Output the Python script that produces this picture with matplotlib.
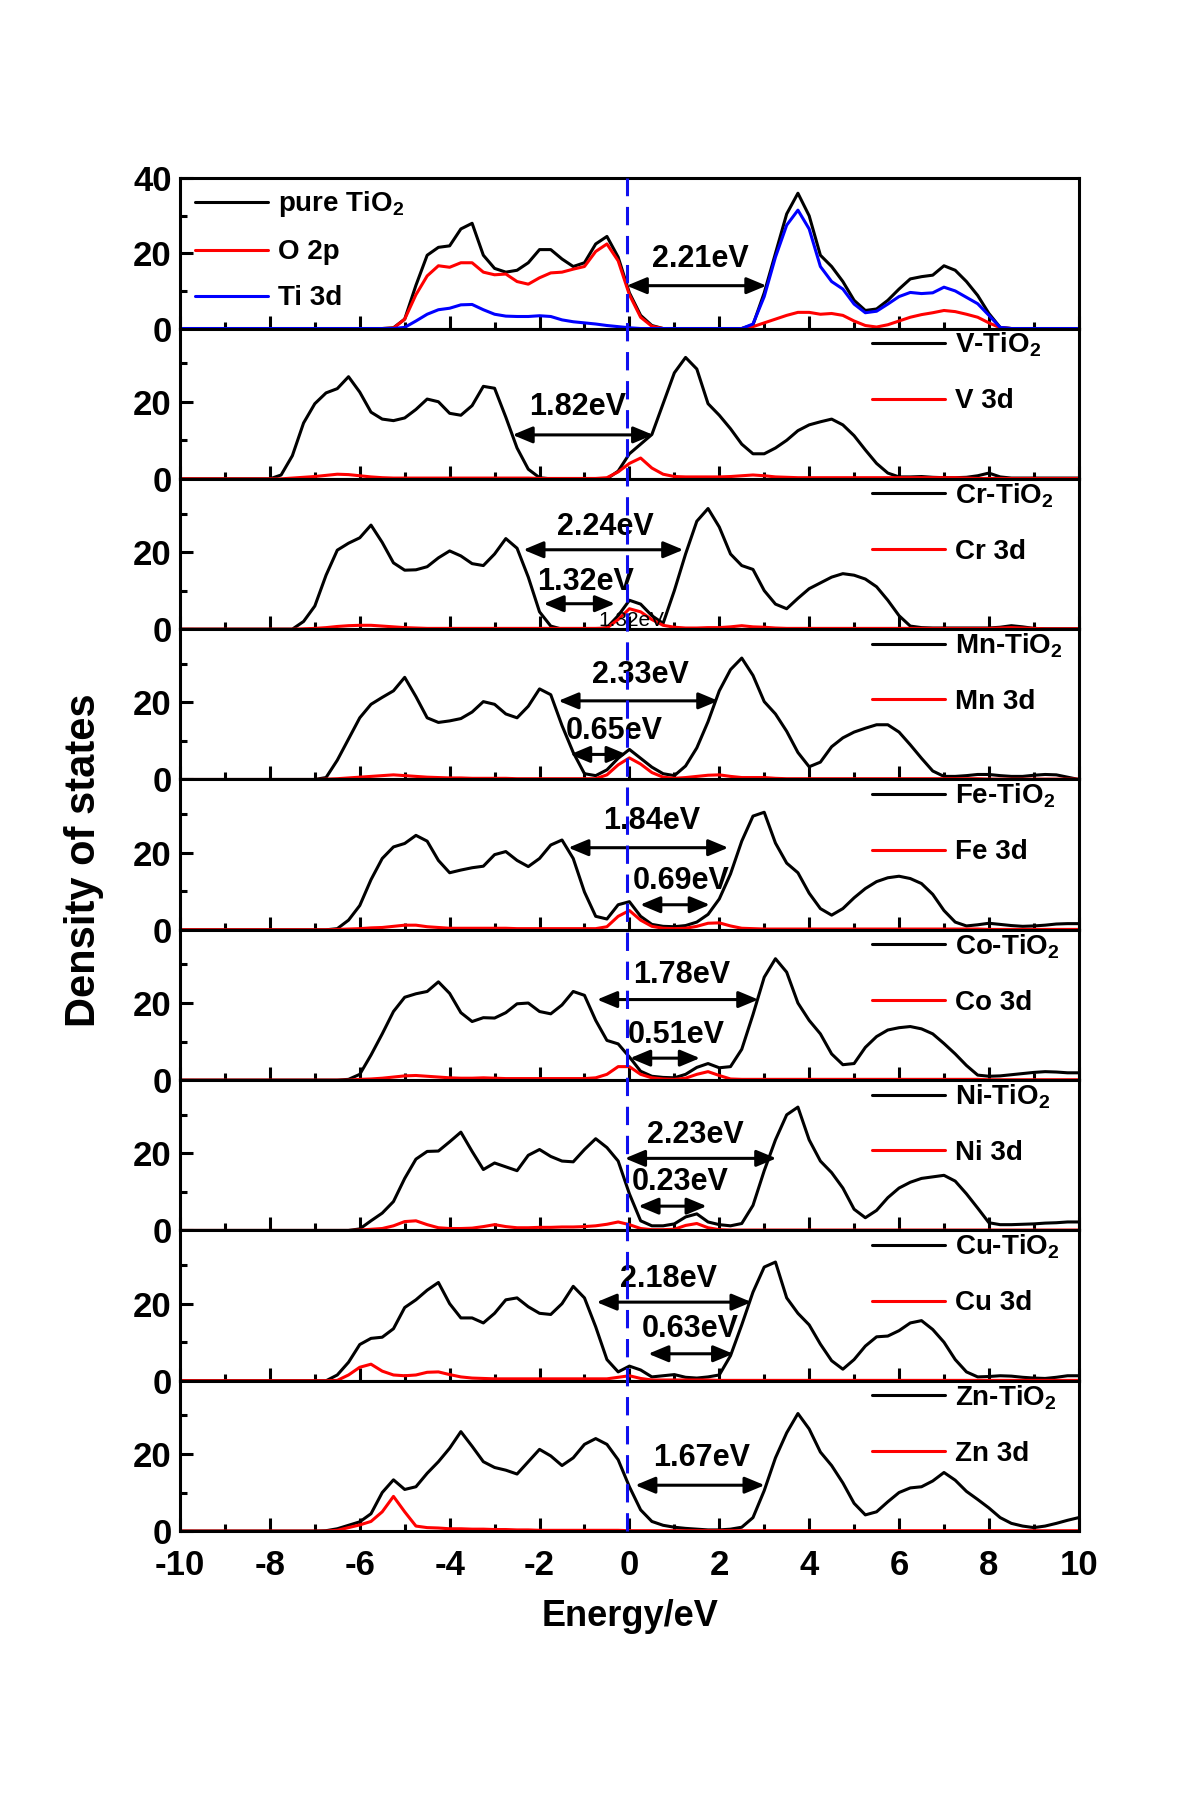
import numpy as np
import matplotlib
matplotlib.use("Agg")
import matplotlib.pyplot as plt
from matplotlib.lines import Line2D
from matplotlib.transforms import blended_transform_factory

plt.rcParams['font.family'] = ['Liberation Sans', 'DejaVu Sans']
plt.rcParams['font.weight'] = 'bold'
plt.rcParams['mathtext.fontset'] = 'custom'
plt.rcParams['mathtext.rm'] = 'Liberation Sans:bold'
plt.rcParams['mathtext.bf'] = 'Liberation Sans:bold'
plt.rcParams['mathtext.default'] = 'rm'
plt.rcParams['axes.unicode_minus'] = False

# ---------------- data (0.25 eV grid) ----------------
energy = np.arange(-10, 10.001, 0.25)   # -10 ... 10 eV, 81 points

tio2_total = [0, 0, 0, 0, 0, 0, 0, 0,
              0, 0, 0, 0, 0, 0, 0, 0,
              0, 0, 0, 0.2, 2.5, 11.5, 19.5, 21.6,
              22, 26.5, 28, 19.5, 16, 15, 15.5, 17.5,
              21, 21, 18.5, 16.5, 17.5, 22.5, 24.5, 19,
              9.5, 3.5, 0.8, 0, 0, 0, 0, 0,
              0, 0, 0, 1, 9.5, 20, 30.5, 36,
              30, 19.5, 16.5, 12.5, 7.5, 4.8, 5.2, 7.5,
              10.5, 13.2, 13.8, 14.2, 16.7, 15.5, 12.5, 8.8,
              4, 0.3, 0, 0, 0, 0, 0, 0,
              0]
o2p = [0, 0, 0, 0, 0, 0, 0, 0,
       0, 0, 0, 0, 0, 0, 0, 0,
       0, 0, 0, 0.1, 2.5, 9, 14, 16.7,
       16.3, 17.5, 17.5, 15, 14.3, 14.5, 12.5, 11.8,
       13.5, 14.8, 15, 15.8, 16.5, 20.5, 22.5, 18,
       9, 3, 0.6, 0, 0, 0, 0, 0,
       0, 0, 0, 0.5, 1.5, 2.5, 3.5, 4.3,
       4.3, 3.8, 4, 3.5, 2, 0.8, 0.4, 1,
       2, 3, 3.7, 4.2, 4.8, 4.5, 3.8, 3,
       1.5, 0.2, 0, 0, 0, 0, 0, 0,
       0]
ti3d = [0, 0, 0, 0, 0, 0, 0, 0,
        0, 0, 0, 0, 0, 0, 0, 0,
        0, 0, 0, 0, 0.3, 2, 3.8, 5,
        5.4, 6.3, 6.4, 5, 3.8, 3.3, 3.2, 3.2,
        3.4, 3.2, 2.3, 1.8, 1.5, 1.2, 0.8, 0.5,
        0.2, 0, 0, 0, 0, 0, 0, 0,
        0, 0, 0, 1.2, 8.5, 19, 27.5, 31.5,
        26.5, 16.5, 12.5, 10.5, 6.5, 4.2, 4.6, 6.5,
        8.5, 9.6, 9.3, 9.5, 11, 10, 8.3, 6.6,
        3.5, 0.3, 0, 0, 0, 0, 0, 0,
        0]

v_total = [0, 0, 0, 0, 0, 0, 0, 0,
           0, 1, 6, 14.5, 19.5, 22.3, 23.4, 26.5,
           22.5, 17.3, 15.5, 15.1, 15.8, 18, 20.7, 20,
           17, 16.5, 19, 24, 23.5, 16, 8, 2.5,
           0.3, 0, 0, 0, 0, 0, 0, 2,
           6.5, 9, 11.5, 19.5, 27.5, 31.5, 28.5, 19.5,
           16.5, 13, 9, 6.5, 6.5, 8, 10, 12.5,
           14, 14.8, 15.5, 14, 11.2, 7.5, 4, 1.5,
           0.5, 0.5, 0.6, 0.4, 0.3, 0.3, 0.4, 0.8,
           1.5, 0.5, 0.2, 0.2, 0.2, 0.2, 0.2, 0.2,
           0.2]
v_3d = [0, 0, 0, 0, 0, 0, 0, 0,
        0, 0, 0.2, 0.4, 0.6, 0.9, 1.2, 1.1,
        0.8, 0.5, 0.3, 0.2, 0.2, 0.2, 0.2, 0.2,
        0.2, 0.2, 0.2, 0.2, 0.2, 0.2, 0.2, 0.2,
        0.1, 0.1, 0.1, 0.1, 0.1, 0.1, 0.3, 1.8,
        4, 5.4, 2.8, 1.2, 0.6, 0.5, 0.5, 0.5,
        0.5, 0.6, 0.8, 1, 0.8, 0.5, 0.4, 0.3,
        0.3, 0.3, 0.3, 0.3, 0.3, 0.3, 0.3, 0.3,
        0.3, 0.3, 0.3, 0.3, 0.3, 0.3, 0.2, 0.1,
        0.1, 0.1, 0.1, 0.1, 0.1, 0.1, 0.1, 0.1,
        0.1]

cr_total = [0, 0, 0, 0, 0, 0, 0, 0,
            0, 0, 0, 2, 6, 14, 20.5, 22.3,
            23.7, 27, 22.5, 17.2, 15.3, 15.4, 16.2, 18.5,
            20.3, 19, 17, 16.5, 19.5, 23.5, 21, 13.5,
            4.5, 0.8, 0, 0, 0, 0, 0.4, 3.5,
            7.5, 6.5, 3.5, 1.5, 10, 19.5, 28, 31.3,
            26.5, 19.5, 16.5, 15.5, 10, 6.5, 5.3, 8,
            10.5, 12, 13.5, 14.4, 14, 13, 11, 7.5,
            3.5, 0.8, 0.4, 0.3, 0.3, 0.3, 0.3, 0.3,
            0.3, 0.5, 0.9, 0.6, 0.2, 0.1, 0.1, 0.1,
            0.1]
cr_3d = [0, 0, 0, 0, 0, 0, 0, 0,
         0, 0, 0, 0.1, 0.2, 0.4, 0.7, 0.9,
         1.0, 1.0, 0.8, 0.6, 0.4, 0.3, 0.2, 0.2,
         0.2, 0.2, 0.2, 0.2, 0.2, 0.2, 0.2, 0.2,
         0.2, 0.2, 0.2, 0.2, 0.2, 0.2, 0.3, 2.5,
         5.3, 4.5, 2.5, 1.0, 0.5, 0.3, 0.3, 0.4,
         0.4, 0.6, 0.9, 0.6, 0.5, 0.3, 0.2, 0.2,
         0.2, 0.2, 0.2, 0.2, 0.2, 0.2, 0.2, 0.2,
         0.2, 0.2, 0.2, 0.2, 0.2, 0.2, 0.2, 0.2,
         0.2, 0.3, 0.4, 0.3, 0.2, 0.1, 0.1, 0.1,
         0.1]

mn_total = [0, 0, 0, 0, 0, 0, 0, 0,
            0, 0, 0, 0, 0, 0.5, 5, 10.5,
            16, 19.5, 21.3, 23, 26.5, 21.5, 16, 14.8,
            15.2, 15.8, 17.5, 20.2, 19.5, 17, 16, 19,
            23.5, 22, 14, 7, 1.5, 1.0, 2.5, 5.5,
            7.8, 5.5, 3.2, 1.5, 1, 3.5, 8.2, 15,
            23, 28.5, 31.5, 27, 20.2, 17, 12.5, 7,
            3.3, 4.5, 8.5, 10.8, 12.3, 13.3, 14.2, 14.2,
            12.3, 9, 5.5, 2.2, 0.8, 0.8, 1, 1.3,
            1.3, 1, 0.8, 0.8, 1.1, 1.3, 1.2, 0.6,
            0]
mn_3d = [0, 0, 0, 0, 0, 0, 0, 0,
         0, 0, 0, 0, 0, 0.1, 0.2, 0.4,
         0.6, 0.8, 1.0, 1.2, 1.0, 0.8, 0.6, 0.5,
         0.4, 0.4, 0.3, 0.3, 0.3, 0.3, 0.2, 0.2,
         0.2, 0.2, 0.2, 0.2, 0.2, 0.2, 1.2, 3.8,
         5.6, 4, 1.8, 0.6, 0.3, 0.5, 0.8, 1.1,
         1.2, 0.8, 0.5, 0.5, 0.5, 0.3, 0.2, 0.2,
         0.2, 0.2, 0.2, 0.2, 0.2, 0.2, 0.2, 0.2,
         0.2, 0.2, 0.2, 0.2, 0.2, 0.2, 0.2, 0.2,
         0.1, 0.1, 0.1, 0.1, 0.1, 0.1, 0.1, 0.1,
         0.1]

fe_total = [0, 0, 0, 0, 0, 0, 0, 0,
            0, 0, 0, 0, 0, 0, 0.3, 2.5,
            6.3, 13, 18.5, 21.5, 22.4, 24.5, 23, 18,
            14.8, 15.5, 16.1, 16.5, 19.5, 20.3, 18, 16.4,
            18.5, 22, 23.3, 18.5, 9.8, 3.5, 2.8, 6.5,
            7.3, 3.5, 1.4, 0.9, 0.8, 1.1, 2, 4,
            8, 14.5, 23, 29.5, 30.5, 22.5, 17.3, 14.8,
            9.5, 5.5, 3.8, 5.5, 8.3, 10.7, 12.5, 13.5,
            13.9, 13.3, 12, 9.2, 5, 2, 1, 1.3,
            1.7, 1.4, 1.1, 0.9, 1, 1.2, 1.5, 1.6,
            1.6]
fe_3d = [0, 0, 0, 0, 0, 0, 0, 0,
         0, 0, 0, 0, 0, 0, 0.1, 0.2,
         0.3, 0.5, 0.6, 0.9, 1.2, 1.2, 0.8, 0.6,
         0.4, 0.4, 0.4, 0.4, 0.4, 0.4, 0.3, 0.3,
         0.3, 0.3, 0.3, 0.3, 0.3, 0.3, 0.8, 3.5,
         5, 2.5, 0.9, 0.4, 0.3, 0.4, 0.9, 1.7,
         1.8, 1, 0.4, 0.3, 0.2, 0.2, 0.2, 0.2,
         0.2, 0.2, 0.2, 0.2, 0.2, 0.2, 0.2, 0.2,
         0.2, 0.2, 0.2, 0.2, 0.2, 0.2, 0.2, 0.2,
         0.1, 0.1, 0.1, 0.1, 0.1, 0.1, 0.1, 0.1,
         0.1]

co_total = [0, 0, 0, 0, 0, 0, 0, 0,
            0, 0, 0, 0, 0, 0, 0, 0.2,
            1.5, 6.5, 12, 17.8, 21.5, 22.4, 23, 25.5,
            22.5, 17.5, 15.2, 16.2, 16.1, 17.5, 19.8, 20,
            17.8, 17.2, 19.5, 23, 22, 15.5, 10.3, 9.4,
            6, 2.3, 1, 0.7, 0.6, 1.5, 3.3, 4.3,
            3.2, 3.5, 8, 17, 26.7, 31.5, 28, 20,
            15.5, 12, 6.8, 4, 4.3, 8.5, 11.3, 13,
            13.6, 13.9, 13.3, 12, 9.5, 6.8, 3.8, 1.3,
            1, 1.1, 1.4, 1.7, 2, 2.2, 2.1, 1.9,
            1.9]
co_3d = [0, 0, 0, 0, 0, 0, 0, 0,
         0, 0, 0, 0, 0, 0, 0, 0,
         0.2, 0.3, 0.5, 0.8, 1.1, 1.2, 1.0, 0.8,
         0.6, 0.5, 0.5, 0.6, 0.5, 0.4, 0.4, 0.4,
         0.4, 0.4, 0.4, 0.4, 0.4, 0.6, 1.5, 3.5,
         3.5, 1.5, 0.6, 0.3, 0.2, 0.5, 1.5, 2.2,
         1.2, 0.3, 0.2, 0.2, 0.2, 0.2, 0.2, 0.2,
         0.2, 0.2, 0.2, 0.2, 0.2, 0.2, 0.2, 0.2,
         0.2, 0.2, 0.2, 0.2, 0.2, 0.2, 0.2, 0.2,
         0.1, 0.1, 0.1, 0.1, 0.1, 0.1, 0.1, 0.1,
         0.1]

ni_total = [0, 0, 0, 0, 0, 0, 0, 0,
            0, 0, 0, 0, 0, 0, 0, 0,
            0.4, 2.5, 4.5, 7.5, 13.5, 18.5, 20.5, 20.6,
            23, 25.5, 20.5, 15.8, 17.5, 16.5, 15.5, 19.5,
            21, 19.2, 18, 17.8, 21, 23.8, 21.5, 18,
            9.5, 2.5, 1.2, 1.2, 1.7, 3.5, 4.3, 2.2,
            1.5, 1.2, 1.8, 6.5, 15.5, 23.5, 30, 32,
            23.5, 18, 15, 11, 5.5, 3.3, 5.2, 8.5,
            11, 12.5, 13.5, 13.9, 14.3, 12.8, 9.5, 5.8,
            2, 1.5, 1.5, 1.6, 1.7, 1.9, 2, 2.2,
            2.2]
ni_3d = [0, 0, 0, 0, 0, 0, 0, 0,
         0, 0, 0, 0, 0, 0, 0, 0,
         0.1, 0.3, 0.5, 1.2, 2.3, 2.5, 1.5, 0.7,
         0.5, 0.5, 0.6, 1.0, 1.5, 1.0, 0.7, 0.7,
         0.8, 0.8, 0.9, 0.9, 1.0, 1.2, 1.6, 2.2,
         1.5, 0.5, 0.2, 0.2, 0.3, 1.3, 1.8, 0.7,
         0.2, 0.1, 0.1, 0.1, 0.1, 0.1, 0.1, 0.1,
         0.1, 0.1, 0.1, 0.1, 0.1, 0.1, 0.1, 0.1,
         0.1, 0.1, 0.1, 0.1, 0.1, 0.1, 0.1, 0.1,
         0.1, 0.1, 0.1, 0.1, 0.1, 0.1, 0.1, 0.1,
         0.1]

cu_total = [0, 0, 0, 0, 0, 0, 0, 0,
            0, 0, 0, 0, 0, 0, 1.5, 4.8,
            9.4, 11, 11.3, 13.5, 19, 21, 23.5, 25.5,
            20, 16.3, 16.3, 15, 17.5, 21, 21.5, 19.2,
            17.5, 17.2, 20, 24.5, 21.5, 14, 5.5, 2.3,
            3.8, 2.8, 1, 1.3, 1.6, 0.9, 0.7, 1,
            1.5, 6.5, 14.5, 23, 29.5, 30.8, 21.5, 17.5,
            14.5, 9.5, 5.2, 3, 5.5, 9, 11.4, 11.6,
            13, 15, 15.6, 13.3, 10, 5.5, 2.3, 1,
            1.1, 1.3, 1.2, 0.9, 0.7, 0.6, 0.9, 1.3,
            1.3]
cu_3d = [0, 0, 0, 0, 0, 0, 0, 0,
         0, 0, 0, 0, 0, 0, 0.1, 1.5,
         3.5, 4.3, 2.5, 1.5, 1.3, 1.5, 2.2, 2.3,
         1.6, 1.0, 0.7, 0.6, 0.5, 0.5, 0.5, 0.5,
         0.5, 0.5, 0.5, 0.5, 0.5, 0.5, 0.5, 0.9,
         1.3, 0.6, 0.2, 0.2, 0.2, 0.2, 0.2, 0.2,
         0.1, 0.1, 0.1, 0.1, 0.1, 0.1, 0.1, 0.1,
         0.1, 0.1, 0.1, 0.1, 0.1, 0.1, 0.1, 0.1,
         0.1, 0.1, 0.1, 0.1, 0.1, 0.1, 0.1, 0.1,
         0.1, 0.1, 0.1, 0.1, 0.1, 0.1, 0.1, 0.1,
         0.1]

zn_total = [0, 0, 0, 0, 0, 0, 0, 0,
            0, 0, 0, 0, 0, 0.1, 0.6, 1.5,
            2.4, 4.5, 10, 13.3, 10.8, 11.5, 15, 18,
            21.5, 25.8, 22, 18, 16.5, 15.8, 14.8, 18,
            21.2, 19.5, 17, 19, 22.5, 24, 22.5, 18.5,
            11.5, 5.5, 2.5, 1.5, 1, 0.7, 0.5, 0.3,
            0.3, 0.5, 1, 3.5, 10.5, 19, 25.5, 30.5,
            26.5, 20.5, 17, 12.5, 7.2, 4.2, 5, 7.6,
            10, 11.2, 11.5, 13, 15.2, 13.2, 10.3, 8.2,
            6, 3.5, 2, 1.3, 0.9, 1.3, 2, 2.8,
            3.5]
zn_3d = [0, 0, 0, 0, 0, 0, 0, 0,
         0, 0, 0, 0, 0, 0, 0.2, 0.9,
         1.6, 2.5, 5, 9, 5, 1.3, 0.9, 0.8,
         0.6, 0.6, 0.5, 0.5, 0.4, 0.4, 0.3, 0.3,
         0.2, 0.2, 0.2, 0.2, 0.2, 0.2, 0.2, 0.2,
         0.1, 0.1, 0.1, 0.1, 0.1, 0.1, 0.1, 0.1,
         0.1, 0.1, 0.1, 0.1, 0.1, 0.1, 0.1, 0.1,
         0.1, 0.1, 0.1, 0.1, 0.1, 0.1, 0.1, 0.1,
         0.1, 0.1, 0.1, 0.1, 0.1, 0.1, 0.1, 0.1,
         0.1, 0.1, 0.1, 0.1, 0.1, 0.1, 0.1, 0.1,
         0.1]

dopants = ['V', 'Cr', 'Mn', 'Fe', 'Co', 'Ni', 'Cu', 'Zn']
doped_totals = [v_total, cr_total, mn_total, fe_total, co_total, ni_total, cu_total, zn_total]
doped_3d = [v_3d, cr_3d, mn_3d, fe_3d, co_3d, ni_3d, cu_3d, zn_3d]

# band-gap annotations per panel: (from eV, to eV, height) and (label, x, y)
gap_arrows = [
    [(-0.06, 3.05, 11.4)],
    [(-2.6, 0.53, 11.4)],
    [(-2.36, 1.2, 20.6), (-1.91, -0.32, 6.6)],
    [(-1.58, 1.98, 20.4), (-1.32, -0.06, 6.5)],
    [(-1.36, 2.2, 21.3), (0.24, 1.79, 6.5)],
    [(-0.72, 2.87, 20.9), (0.015, 1.57, 5.7)],
    [(-0.1, 3.27, 18.7), (0.2, 1.72, 6.3)],
    [(-0.73, 2.72, 20.4), (0.42, 2.31, 7.0)],
    [(0.13, 3.01, 11.9)],
]
gap_labels = [
    [('2.21eV', 1.57, 18.4)],
    [('1.82eV', -1.15, 18.7)],
    [('2.24eV', -0.54, 26.5), ('1.32eV', -0.97, 12.2)],
    [('2.33eV', 0.25, 27.0), ('0.65eV', -0.34, 12.6)],
    [('1.84eV', 0.5, 28.3), ('0.69eV', 1.16, 12.6)],
    [('1.78eV', 1.16, 27.4), ('0.51eV', 1.05, 11.7)],
    [('2.23eV', 1.46, 24.8), ('0.23eV', 1.13, 12.6)],
    [('2.18eV', 0.87, 26.5), ('0.63eV', 1.35, 13.5)],
    [('1.67eV', 1.61, 18.9)],
]
fermi_level = -0.06

# ---------------- figure ----------------
fig, axes = plt.subplots(9, 1, figsize=(12, 18), dpi=100, sharex=True,
                         gridspec_kw={'hspace': 0})
fig.subplots_adjust(left=0.15, right=0.899, top=0.901, bottom=0.1494)

LW = 2.2
arrow_style = '<|-|>,head_length=0.6,head_width=0.25'
line_kw = dict(lw=LW, solid_joinstyle='round', solid_capstyle='round')

for i, ax in enumerate(axes):
    if i == 0:
        l1, = ax.plot(energy, tio2_total, color='black', **line_kw)
        l2, = ax.plot(energy, o2p, color='#ff0000', **line_kw)
        l3, = ax.plot(energy, ti3d, color='#0000ff', **line_kw)
        ax.legend([l1, l2, l3], ['pure TiO$_2$', 'O 2p', 'Ti 3d'],
                  loc='upper left', bbox_to_anchor=(0.017, 0.925), frameon=False,
                  fontsize=20, handlelength=2.63, handletextpad=0.36,
                  labelspacing=0.72, borderpad=0, borderaxespad=0)
    else:
        d = dopants[i - 1]
        l1, = ax.plot(energy, doped_totals[i - 1], color='black', **line_kw)
        l2, = ax.plot(energy, doped_3d[i - 1], color='#ff0000', **line_kw)
        ax.legend([l1, l2], [d + '-TiO$_2$', d + ' 3d'],
                  loc='upper left', bbox_to_anchor=(0.77, 0.985), frameon=False,
                  fontsize=20, handlelength=2.63, handletextpad=0.36,
                  labelspacing=1.05, borderpad=0, borderaxespad=0)

    for (x1, x2, y) in gap_arrows[i]:
        ax.annotate('', xy=(x2, y), xytext=(x1, y),
                    arrowprops=dict(arrowstyle=arrow_style, color='black', lw=LW,
                                    shrinkA=0, shrinkB=0, mutation_scale=20))
    for (txt, x, y) in gap_labels[i]:
        ax.text(x, y, txt, ha='center', va='center', fontsize=22, fontweight='bold')

    ax.set_xticks(range(-10, 11, 2))
    ax.set_xticks(range(-9, 10, 2), minor=True)
    ax.set_yticks([0, 20, 40])
    ax.set_yticks([10, 30], minor=True)
    ax.set_xlim(-10, 10)
    ax.set_ylim(0, 40 if i == 0 else 39)
    ax.tick_params(which='both', direction='in', top=False, right=False,
                   width=2.2, labelsize=25)
    ax.tick_params(which='major', length=9.5)
    ax.tick_params(which='minor', length=5)
    ax.tick_params(axis='y', pad=6)
    ax.tick_params(axis='x', pad=13)
    for s in ax.spines.values():
        s.set_linewidth(2.2)

# faint leftover label in the Cr panel
axes[2].text(0.05, 2.3, '1.32eV', ha='center', va='center', fontsize=15,
             fontweight='normal')

# Fermi level dashed line across all panels
trans = blended_transform_factory(axes[-1].transData, fig.transFigure)
fig.add_artist(Line2D([fermi_level, fermi_level], [0.1494, 0.901], transform=trans,
                      color='#1010ee', lw=2.2, linestyle=(0, (6, 3.5)), zorder=5))

fig.text(0.07, 0.522, 'Density of states', rotation=90, ha='center', va='center',
         fontsize=30, fontweight='bold')
fig.text(0.525, 0.1017, 'Energy/eV', ha='center', va='center',
         fontsize=26, fontweight='bold')

fig.savefig('out.png', dpi=100)
